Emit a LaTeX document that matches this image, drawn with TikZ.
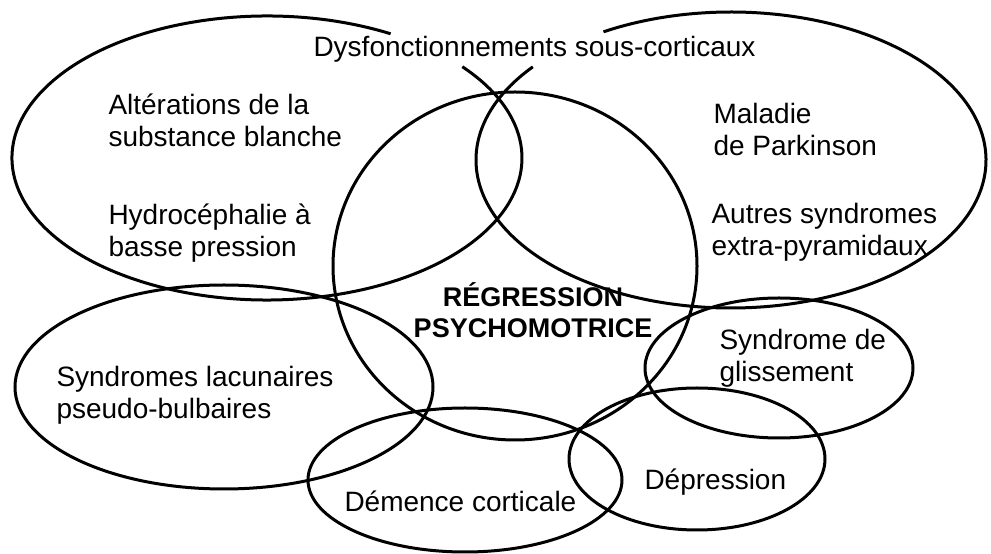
\documentclass[tikz,border=0pt]{standalone}
\usepackage{fontspec}
\setmainfont{Liberation Sans}
\usepackage{xcolor}
\usepackage{tikz}

\begin{document}
\begin{tikzpicture}[
    x=1pt, y=1pt,
    line width=3pt,
    every node/.style={inner sep=0pt, align=left,
      font=\rmfamily\fontsize{28}{32}\selectfont}
  ]
    \useasboundingbox (0,0) rectangle (991,554);

    \draw (267,396) ++(61:255 and 142)
      arc[start angle=61, end angle=400, x radius=255, y radius=142];
    \draw (731,394) ++(141:255 and 148)
      arc[start angle=141, end angle=480, x radius=255, y radius=148];
    \draw (515,288) ellipse [x radius=182, y radius=174];
    \draw (224,167) ellipse [x radius=209, y radius=102];
    \draw (779,186) ellipse [x radius=134, y radius=70];
    \draw (465,74) ellipse [x radius=157, y radius=72];
    \draw (697,95) ellipse [x radius=128, y radius=71];

    \node[anchor=base west] (dys) at (312,497) {Dysfonctionnements sous-corticaux};
    \node[anchor=north west] (alt) at (107,462) {Altérations de la\\substance blanche};
    \node[anchor=north west] (hyd) at (107,352) {Hydrocéphalie à\\basse pression};
    \node[anchor=north west] (mal) at (712,452) {Maladie\\de Parkinson};
    \node[anchor=north west] (aut) at (710,352) {Autres syndromes\\extra-pyramidaux};
    \node[anchor=north, align=center, font=\rmfamily\bfseries\fontsize{27}{31}\selectfont]
      (reg) at (533,273) {RÉGRESSION\\PSYCHOMOTRICE};
    \node[anchor=north west] (syn) at (55,189) {Syndromes lacunaires\\pseudo-bulbaires};
    \node[anchor=north west] (gli) at (718,226) {Syndrome de\\glissement};
    \node[anchor=north west] (dep) at (643,87) {Dépression};
    \node[anchor=north west] (dem) at (343,65) {Démence corticale};
  \end{tikzpicture}
\end{document}
